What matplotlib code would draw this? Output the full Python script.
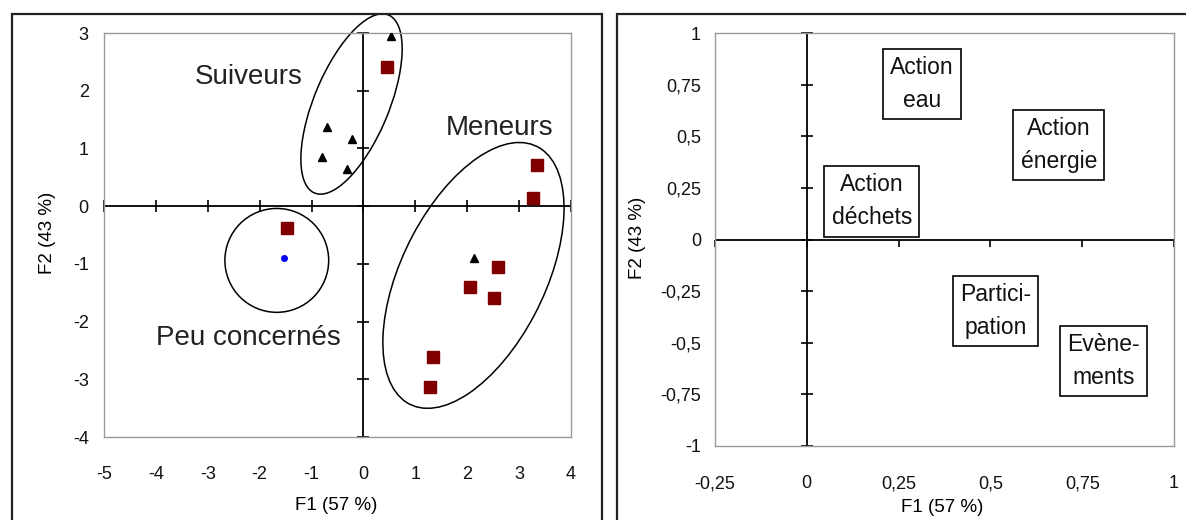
import numpy as np
import matplotlib
matplotlib.use('Agg')
import matplotlib.pyplot as plt
from matplotlib.patches import Ellipse, Rectangle

plt.rcParams['font.family'] = ['Liberation Sans', 'DejaVu Sans']

# --- left chart : individuals on the F1/F2 plane
tri_x = [0.54, -0.71, -0.23, -0.79, -0.31, 2.13]
tri_y = [2.95, 1.37, 1.16, 0.85, 0.64, -0.90]
sq_x = [0.46, 3.35, 3.27, -1.48, 2.60, 2.06, 2.52, 1.35, 1.29]
sq_y = [2.41, 0.71, 0.14, -0.38, -1.06, -1.40, -1.59, -2.62, -3.14]
dot_x = [-1.54]
dot_y = [-0.90]

groups = ['Suiveurs', 'Meneurs', 'Peu concernés']
group_lx = [-2.21, 2.63, -2.21]
group_ly = [2.24, 1.35, -2.29]
# group ellipses (centre, width, height, angle) in data units
ell_cx = [-0.23, 2.12, -1.67]
ell_cy = [1.77, -1.20, -0.94]
ell_w = [3.40, 5.1, 2.0]
ell_h = [1.42, 2.72, 1.80]
ell_ang = [64.3, 59.5, 0]

left_xticks = list(range(-5, 5))
left_yticks = list(range(-4, 4))

# --- right chart : variables
var_names = ['Action\neau', 'Action\nénergie', 'Action\ndéchets', 'Partici-\npation', 'Evène-\nments']
var_x = [0.313, 0.686, 0.177, 0.514, 0.808]
var_y = [0.753, 0.457, 0.185, -0.347, -0.589]
right_xticks = [-0.25, 0, 0.25, 0.5, 0.75, 1]
right_yticks = [-1, -0.75, -0.5, -0.25, 0, 0.25, 0.5, 0.75, 1]


def fr(v):
	# french decimal comma
	return ('%g' % v).replace('.', ',')


def excel_axes(ax, xt, yt, xdown=False):
	for s in ax.spines.values():
		s.set_color('#9a9a9a')
		s.set_linewidth(1)
	ax.axhline(0, color='black', lw=1.3, zorder=1)
	ax.axvline(0, color='black', lw=1.3, zorder=1)
	ax.plot(xt, np.zeros(len(xt)), ls='none', marker=3 if xdown else '|', ms=9 if not xdown else 5,
		mew=1.2, color='black', clip_on=False, zorder=1)
	ax.plot(np.zeros(len(yt)), yt, ls='none', marker='_', ms=9, mew=1.2, color='black',
		clip_on=False, zorder=1)
	ax.set_xticks(xt)
	ax.set_yticks(yt)
	ax.set_xticklabels([fr(v) for v in xt])
	ax.set_yticklabels([fr(v) for v in yt])
	ax.tick_params(axis='both', length=0, labelsize=13, colors='#111111')
	ax.tick_params(axis='x', pad=21)


fig = plt.figure(figsize=(11.86, 5.2), dpi=100)

# panel frames
fig.add_artist(Rectangle((12/1186, -0.1), (602-12)/1186, 1.1 - 14/520, transform=fig.transFigure,
	fill=False, ec='#222222', lw=1.6))
fig.add_artist(Rectangle((617/1186, -0.1), 0.5, 1.1 - 14/520, transform=fig.transFigure,
	fill=False, ec='#222222', lw=1.6))

# left
ax1 = fig.add_axes([104/1186, 1-437/520, (571-104)/1186, (437-33)/520])
ax1.set_xlim(-5, 4)
ax1.set_ylim(-4, 3)
excel_axes(ax1, left_xticks, left_yticks)
ax1.tick_params(axis='y', pad=11)
for i in range(len(groups)):
	ax1.add_patch(Ellipse((ell_cx[i], ell_cy[i]), ell_w[i], ell_h[i], angle=ell_ang[i],
		fill=False, ec='black', lw=1.1, zorder=2, clip_on=False))
	ax1.text(group_lx[i], group_ly[i], groups[i], ha='center', va='center', fontsize=20, color='#222222')
ax1.plot(sq_x, sq_y, ls='none', marker='s', ms=9, color='#800000', zorder=3)
ax1.plot(tri_x, tri_y, ls='none', marker='^', ms=5.5, color='black', zorder=3)
ax1.plot(dot_x, dot_y, ls='none', marker='o', ms=4, color='#0000ee', zorder=3)

# right
ax2 = fig.add_axes([715/1186, 1-446/520, (1174-715)/1186, (446-33)/520])
ax2.set_xlim(-0.25, 1)
ax2.set_ylim(-1, 1)
excel_axes(ax2, right_xticks, right_yticks, xdown=True)
ax2.tick_params(axis='y', pad=10)
for i in range(len(var_names)):
	ax2.text(var_x[i], var_y[i], var_names[i], ha='center', va='center', fontsize=16.5,
		linespacing=1.55, color='#111111', multialignment='center',
		bbox=dict(boxstyle='square,pad=0.32', fc='white', ec='black', lw=1.2))

# axis titles
fig.text(336/1186, 1-505/520, 'F1 (57 %)', ha='center', va='center', fontsize=13.5)
fig.text(942/1186, 1-508/520, 'F1 (57 %)', ha='center', va='center', fontsize=13.5)
fig.text(47/1186, 1-233/520, 'F2 (43 %)', ha='center', va='center', rotation=90, fontsize=13.5)
fig.text(637/1186, 1-238/520, 'F2 (43 %)', ha='center', va='center', rotation=90, fontsize=13.5)

fig.savefig('out.png', dpi=100)
